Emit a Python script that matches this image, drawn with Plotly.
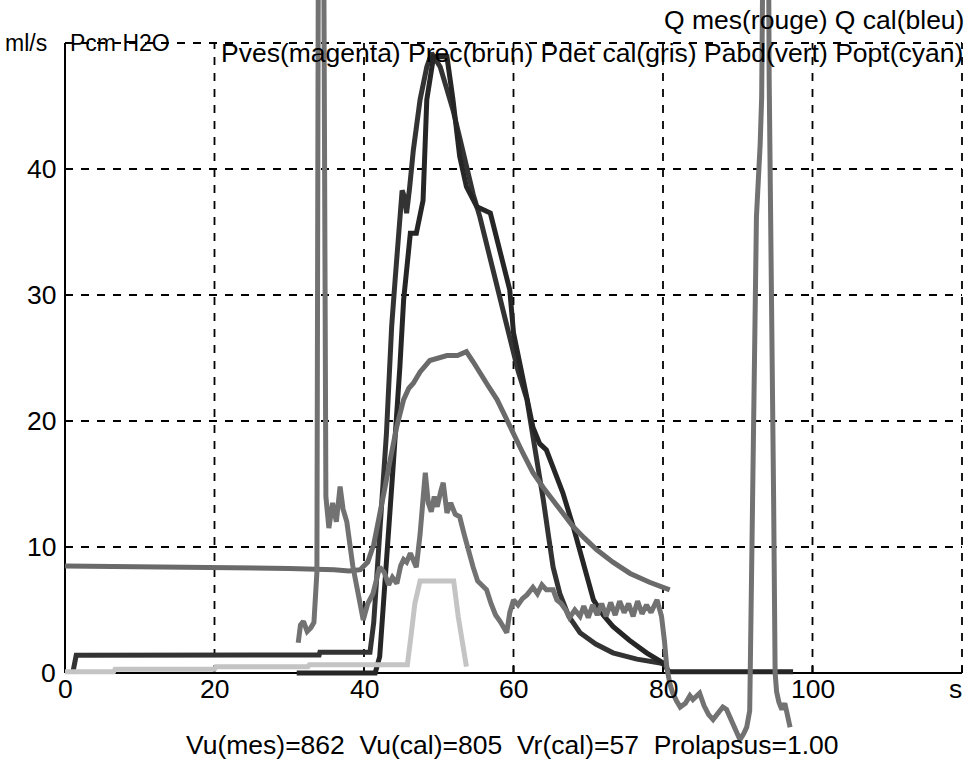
import plotly.graph_objects as go

# ---------------- data ----------------
# Pves (noisy medium gray, measured, with cough spikes)
pves_t = [31.2, 31.5, 31.9, 32.4, 32.9, 33.3, 33.7, 33.9, 34.6, 34.8, 34.9, 35.3, 35.8, 36.3, 36.8,
          37.2, 37.7, 38.5, 39.3, 39.9, 40.5, 41.2, 41.7, 42.1, 42.7, 43.3, 43.8, 44.4, 44.9, 45.3,
          45.7, 46.2, 47.0, 47.5, 48.0, 48.2, 48.6, 49.0, 49.4, 49.8, 50.3, 50.6, 51.1, 51.6, 52.2,
          52.8, 53.4, 54.0, 54.6, 55.2, 55.8, 56.4, 57.0, 57.6, 58.2, 59.1, 59.5, 60.0, 60.6, 61.2,
          61.8, 62.6, 63.2, 63.8, 64.4, 65.3, 65.8, 66.4, 67.0, 67.5, 68.2, 68.9, 69.4, 70.0, 70.6,
          71.2, 71.8, 72.4, 73.0, 73.6, 74.2, 74.8, 75.4, 76.0, 76.6, 77.2, 77.8, 78.4, 79.2, 79.8,
          80.2, 80.5, 80.9, 81.3, 81.8, 82.3, 83.0, 83.6, 84.0, 84.9, 85.5, 86.1, 86.7, 87.3, 88.0,
          88.5, 89.2, 89.8, 90.3, 90.8, 91.2, 91.6, 91.9, 92.1, 92.3, 92.5, 93.0, 93.2, 93.4, 94.1,
          94.2, 94.5, 94.8, 95.0, 95.2, 95.5, 95.9, 96.3, 96.7, 97.0]
pves_v = [2.4, 3.8, 4.1, 3.3, 3.6, 4.0, 8.0, 60.0, 60.0, 38.0, 14.0, 11.5, 13.5, 12.0, 14.8,
          13.0, 12.0, 8.5, 6.0, 4.2, 5.5, 6.3, 7.5, 8.4, 8.0, 7.0, 7.6, 7.1, 8.5, 9.0,
          8.8, 9.5, 8.4, 11.0, 14.5, 15.9, 13.5, 12.8, 14.0, 13.2, 14.5, 15.1, 12.7, 13.5, 12.6,
          12.4, 11.0, 9.5, 8.4, 7.3, 7.0, 6.6, 5.5, 4.6, 4.1, 3.2, 4.8, 5.8, 5.4, 5.9,
          6.2, 6.8, 6.3, 7.0, 6.6, 6.6, 5.8, 5.5, 5.0, 4.4, 5.0, 4.5, 5.3, 4.4, 5.4,
          4.6, 5.5, 4.5, 5.6, 4.6, 5.7, 4.8, 5.5, 4.5, 5.7, 4.7, 5.4, 4.8, 5.8, 4.5,
          2.5, 0.5, -0.8, -1.6, -2.2, -2.7, -2.4, -1.8, -2.1, -1.6, -2.6, -3.3, -3.7, -3.2, -2.7,
          -2.9, -3.8, -4.6, -5.3, -4.8, -4.3, -3.0, 12.1, 21.1, 28.5, 36.2, 42.0, 45.7, 60.0, 60.0,
          47.3, 24.3, 13.7, 0.0, -1.5, -2.3, -2.9, -2.4, -3.5, -4.3]

# Pdet cal (smooth medium gray)
pdet_t = [0, 10, 20, 30, 36, 38, 39.5, 40.5, 41.3, 42.1, 42.8, 43.5, 44.4, 45.3, 46.0, 46.6, 47.5,
          48.8, 50.0, 51.1, 52.5, 53.7, 54.6, 55.5, 56.6, 57.8, 59.0, 60.0, 61.3, 62.6, 64.0, 65.3,
          66.6, 68.0, 69.5, 71.1, 73.3, 75.6, 78.2, 80.9]
pdet_v = [8.5, 8.45, 8.4, 8.3, 8.2, 8.1, 8.2, 8.8, 10.2, 12.4, 14.7, 16.9, 19.6, 21.7, 22.6, 23.0, 23.9,
          24.8, 25.0, 25.2, 25.2, 25.5, 24.7, 23.8, 22.8, 21.7, 20.3, 19.0, 17.4, 15.9, 14.7, 13.7,
          12.6, 11.6, 10.7, 9.8, 8.8, 7.9, 7.2, 6.6]

# Popt (light gray)
popt_t = [0, 6.5, 6.7, 20, 20.2, 32.5, 32.7, 45.8, 46.3, 46.8, 47.5, 52.0, 52.6, 53.2, 53.7]
popt_v = [0.1, 0.1, 0.3, 0.3, 0.5, 0.5, 0.65, 0.65, 3.0, 5.5, 7.3, 7.3, 4.5, 2.2, 0.5]

# Q cal (dark)
qcal_t = [0.9, 1.1, 1.5, 34.0, 34.1, 40.8, 41.3, 41.7, 42.1, 43.0, 43.7, 44.2, 44.7, 45.1, 45.4,
          45.7, 46.1, 46.6, 47.5, 48.4, 49.05, 50.2, 51.0, 51.9, 52.8, 53.7, 54.6, 55.5, 56.6, 57.8,
          58.2, 59.5, 60.6, 61.8, 62.9, 64.0, 64.7, 65.3, 66.2, 67.4, 68.9, 71.0, 73.3, 76.5, 79.6, 80.5]
qcal_v = [0.0, 0.2, 1.4, 1.43, 1.65, 1.65, 4.0, 7.0, 11.1, 19.0, 27.5, 31.5, 35.5, 38.3, 37.8,
          36.5, 38.5, 41.5, 45.5, 48.1, 49.2, 48.1, 46.5, 44.7, 42.5, 40.2, 38.0, 36.2, 33.5, 30.9,
          29.6, 26.5, 24.0, 21.7, 17.8, 13.7, 10.8, 8.4, 6.3, 4.5, 3.2, 2.3, 1.6, 1.1, 0.8, 0.6]

# Q mes (darker)
qmes_t = [31.0, 41.5, 42.1, 43.0, 43.9, 44.8, 45.3, 46.2, 47.0, 47.9, 48.4, 49.3, 51.1, 51.9, 52.8,
          53.7, 55.1, 56.9, 58.2, 59.5, 60.0, 61.3, 62.6, 63.5, 64.4, 65.5, 66.6, 68.0, 69.4, 70.7,
          72.0, 73.3, 75.5, 77.8, 80.0, 80.8, 97.4]
qmes_v = [0.0, 0.0, 1.3, 8.4, 16.4, 24.3, 29.6, 34.9, 34.9, 37.5, 45.5, 48.9, 48.9, 45.5, 41.0,
          38.6, 37.0, 36.5, 33.6, 30.4, 27.0, 23.0, 19.5, 18.2, 17.7, 16.0, 14.3, 11.6, 8.5, 5.8,
          4.6, 3.7, 2.6, 1.6, 0.8, 0.1, 0.1]

x_ticks = [0, 20, 40, 60, 80, 100]
x_tick_labels = ["0", "20", "40", "60", "80", "100"]
y_ticks = [0, 10, 20, 30, 40]
y_tick_labels = ["0", "10", "20", "30", "40"]
x_max, y_max = 120, 50
x_unit_label = "s"
y_label_1 = "ml/s"
y_label_2 = "Pcm H2O"
legend_line_1 = "Q mes(rouge) Q cal(bleu)"
legend_line_2 = "Pves(magenta) Prec(brun) Pdet cal(gris) Pabd(vert) Popt(cyan)"
summary_text = "Vu(mes)=862  Vu(cal)=805  Vr(cal)=57  Prolapsus=1.00"

# ---------------- figure ----------------
W, H = 965, 763
px_x0, px_per_x = 65, 7.475
px_y0, px_per_y = 673, 12.6
x_range = [-px_x0 / px_per_x, (W - px_x0) / px_per_x]
y_range = [-(H - px_y0) / px_per_y, px_y0 / px_per_y]

FONT = "Liberation Sans, Arial, sans-serif"

fig = go.Figure()

def add_line(t, v, color, width=5):
    fig.add_trace(go.Scatter(x=t, y=v, mode="lines", line=dict(color=color, width=width),
                             hoverinfo="skip", showlegend=False))

add_line(qcal_t, qcal_v, "#333333")
add_line(qmes_t, qmes_v, "#262626")
add_line(pdet_t, pdet_v, "#6a6a6a")
add_line(popt_t, popt_v, "#c4c4c4")
add_line(pves_t, pves_v, "#727272")

shapes = []
grid = dict(color="black", width=1.8, dash="8px,8px")
for gx in x_ticks[1:] + [x_max]:
    shapes.append(dict(type="line", xref="x", yref="y", x0=gx, x1=gx, y0=0, y1=y_max,
                       line=grid, layer="below"))
for gy in y_ticks[1:] + [y_max]:
    shapes.append(dict(type="line", xref="x", yref="y", x0=0, x1=x_max, y0=gy, y1=gy,
                       line=grid, layer="below"))
axis = dict(color="black", width=2)
shapes.append(dict(type="line", xref="x", yref="y", x0=0, x1=0, y0=0, y1=y_max, line=axis, layer="below"))
shapes.append(dict(type="line", xref="x", yref="y", x0=0, x1=x_max, y0=0, y1=0, line=axis, layer="below"))
for gx in x_ticks[1:] + [x_max]:
    shapes.append(dict(type="line", xref="x", yref="y", x0=gx, x1=gx, y0=0, y1=0.55,
                       line=axis, layer="below"))
for gy in y_ticks[1:]:
    shapes.append(dict(type="line", xref="x", yref="y", x0=0, x1=0.8, y0=gy, y1=gy,
                       line=axis, layer="below"))

ann = []
tf = dict(family=FONT, size=26.5, color="black")
for t, lab in zip(x_ticks, x_tick_labels):
    ann.append(dict(x=t, y=-1.3, xref="x", yref="y", text=lab, showarrow=False,
                    xanchor="center", yanchor="middle", font=tf))
ann.append(dict(x=(W - 1 - px_x0) / px_per_x, y=-1.3, xref="x", yref="y", text=x_unit_label,
                showarrow=False, xanchor="right", yanchor="middle", font=tf))
for t, lab in zip(y_ticks, y_tick_labels):
    ann.append(dict(x=-0.9, y=t, xref="x", yref="y", text=lab, showarrow=False,
                    xanchor="right", yanchor="middle", font=tf))

def paper(px, py):
    return px / W, 1 - py / H

sx, sy = paper(3, 43)
ann.append(dict(x=sx, y=sy, xref="paper", yref="paper", text=y_label_1, showarrow=False,
                xanchor="left", yanchor="middle", font=dict(family=FONT, size=23, color="black")))
sx, sy = paper(68, 43)
ann.append(dict(x=sx, y=sy, xref="paper", yref="paper", text=y_label_2, showarrow=False,
                xanchor="left", yanchor="middle", font=dict(family=FONT, size=23, color="black")))
sx, sy = paper(966, 20)
ann.append(dict(x=sx, y=sy, xref="paper", yref="paper", text=legend_line_1, showarrow=False,
                xanchor="right", yanchor="middle", font=tf))
sx, sy = paper(219, 53)
ann.append(dict(x=sx, y=sy, xref="paper", yref="paper", text=legend_line_2, showarrow=False,
                xanchor="left", yanchor="middle", font=tf))
sx, sy = paper(512, 745)
ann.append(dict(x=sx, y=sy, xref="paper", yref="paper", text=summary_text, showarrow=False,
                xanchor="center", yanchor="middle", font=tf))

fig.update_layout(
    width=W, height=H,
    margin=dict(l=0, r=0, t=0, b=0),
    paper_bgcolor="white", plot_bgcolor="white",
    xaxis=dict(range=x_range, visible=False, fixedrange=True),
    yaxis=dict(range=y_range, visible=False, fixedrange=True),
    shapes=shapes, annotations=ann, showlegend=False,
)

fig.write_html("out.html")
